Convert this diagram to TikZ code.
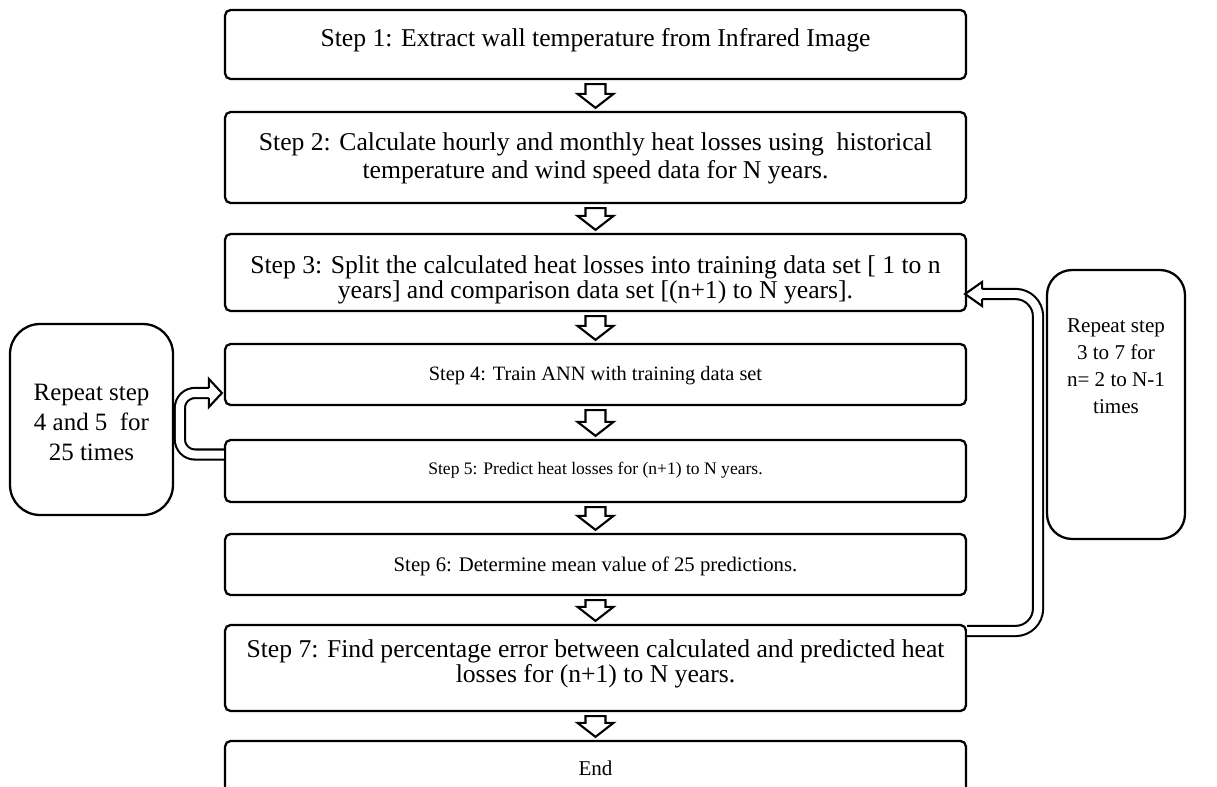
\documentclass[tikz,border=0pt]{standalone}
\usepackage{fontspec}
\setmainfont{Liberation Serif}
\usetikzlibrary{calc}
\newcommand\downarr[2]{%
  \draw[blockarrow] ($(#1.south)+(-10,4)$) -- ($(#1.south)+(10,4)$)
    -- ($(#2.north)+(10,-17)$) -- ($(#2.north)+(18,-17)$)
    -- ($(#2.north)+(0,-3)$) -- ($(#2.north)+(-18,-17)$)
    -- ($(#2.north)+(-10,-17)$) -- cycle;}
\begin{document}
\begin{tikzpicture}[x=0.02cm,y=-0.02cm,
  stepbox/.style={draw, line width=1.3pt, rounded corners=0.11cm, minimum width=14.82cm, inner sep=0pt},
  steptext/.style={align=center, inner sep=0pt},
  bigtext/.style={steptext, font=\fontsize{14.6}{14.6}\selectfont},
  sidebox/.style={draw, line width=1.3pt, inner sep=0pt},
  sidetext/.style={align=center, inner sep=0pt},
  blockarrow/.style={draw, line width=1.2pt, fill=white, line join=miter},
  loopline/.style={draw, double=white, double distance=0.16cm, line width=1.2pt},
  loophead/.style={draw, line width=1.2pt, line join=miter},
]
\useasboundingbox (0,0) rectangle (1217,787);

\node[stepbox, minimum height=1.38cm] (b1) at (595.5,44.5) {};
\node[stepbox, minimum height=1.82cm] (b2) at (595.5,157.5) {};
\node[stepbox, minimum height=1.54cm] (b3) at (595.5,272.5) {};
\node[stepbox, minimum height=1.22cm] (b4) at (595.5,374.5) {};
\node[stepbox, minimum height=1.24cm] (b5) at (595.5,471) {};
\node[stepbox, minimum height=1.22cm] (b6) at (595.5,564.5) {};
\node[stepbox, minimum height=1.72cm] (b7) at (595.5,668) {};
\node[stepbox, minimum height=1.04cm] (b8) at (595.5,767) {};

\node[bigtext] (t1) at ($(b1)+(0,-4)$) {Step 1: Extract wall temperature from Infrared Image};
\node[bigtext, font=\fontsize{14.6}{16}\selectfont] (t2) at ($(b2)+(0,1)$) {Step 2: Calculate hourly and monthly heat losses using\ \ historical\\temperature and wind speed data for N years.};
\node[bigtext] (t3) at ($(b3)+(0,7.5)$) {Step 3: Split the calculated heat losses into training data set [ 1 to n\\years] and comparison data set [(n+1) to N years].};
\node[steptext, font=\fontsize{11.6}{14}\selectfont] (t4) at ($(b4)+(0,1.5)$) {Step 4: Train ANN with training data set};
\node[steptext, font=\fontsize{10}{14}\selectfont] (t5) at ($(b5)+(0,-1)$) {Step 5: Predict heat losses for (n+1) to N years.};
\node[steptext, font=\fontsize{11.8}{14}\selectfont] (t6) at ($(b6)+(0,1.5)$) {Step 6: Determine mean value of 25 predictions.};
\node[bigtext] (t7) at ($(b7)+(0,-4)$) {Step 7: Find percentage error between calculated and predicted heat\\losses for (n+1) to N years.};
\node[steptext, font=\fontsize{12}{14}\selectfont] (t8) at ($(b8)+(0,1)$) {End};

\downarr{b1}{b2}
\downarr{b2}{b3}
\downarr{b3}{b4}
\downarr{b4}{b5}
\downarr{b5}{b6}
\downarr{b6}{b7}
\downarr{b7}{b8}

% left side box
\node[sidebox, rounded corners=0.6cm, minimum width=3.26cm, minimum height=3.82cm] (lb) at (91.5,419.5) {};
\node[sidetext, font=\fontsize{14.2}{17}\selectfont] (lt0) at ($(lb)+(0,3)$) {Repeat step\\4 and 5\ \ for\\25 times};

% right side box
\node[sidebox, rounded corners=0.5cm, minimum width=2.76cm, minimum height=5.38cm] (rb) at (1116,404.5) {};
\node[sidetext, font=\fontsize{12}{15.4}\selectfont] (rt) at (1116,366.5) {Repeat step\\3 to 7 for\\n= 2 to N-1\\times};

% left loop (step 5 -> step 4)
\coordinate (la) at ($(b5.west)+(0,-16.5)$);
\coordinate (lh) at ($(b4.west)+(-15,18.5)$);
\coordinate (lt) at ($(b4.west)+(-2,18.5)$);
\draw[loopline, rounded corners=0.3cm] (la) -- ($(la)+(-44,0)$) |- (lh);
\fill[white] ($(lh)+(0,-14)$) -- (lt) -- ($(lh)+(0,14)$) -- cycle;
\draw[loophead] ($(lh)+(0,-5)$) -- ($(lh)+(0,-14)$) -- (lt) -- ($(lh)+(0,14)$) -- ($(lh)+(0,5)$);

% right loop (step 7 -> step 3)
\coordinate (ra) at ($(b7.east)+(0,-37)$);
\coordinate (rh) at ($(b3.east)+(15,21.5)$);
\coordinate (rt2) at ($(b3.east)+(-2,21.5)$);
\draw[loopline, rounded corners=0.45cm] (ra) -- ($(ra)+(71,0)$) |- (rh);
\fill[white] ($(rh)+(0,-12)$) -- (rt2) -- ($(rh)+(0,12)$) -- cycle;
\draw[loophead] ($(rh)+(0,-5)$) -- ($(rh)+(0,-12)$) -- (rt2) -- ($(rh)+(0,12)$) -- ($(rh)+(0,5)$);
\end{tikzpicture}
\end{document}
